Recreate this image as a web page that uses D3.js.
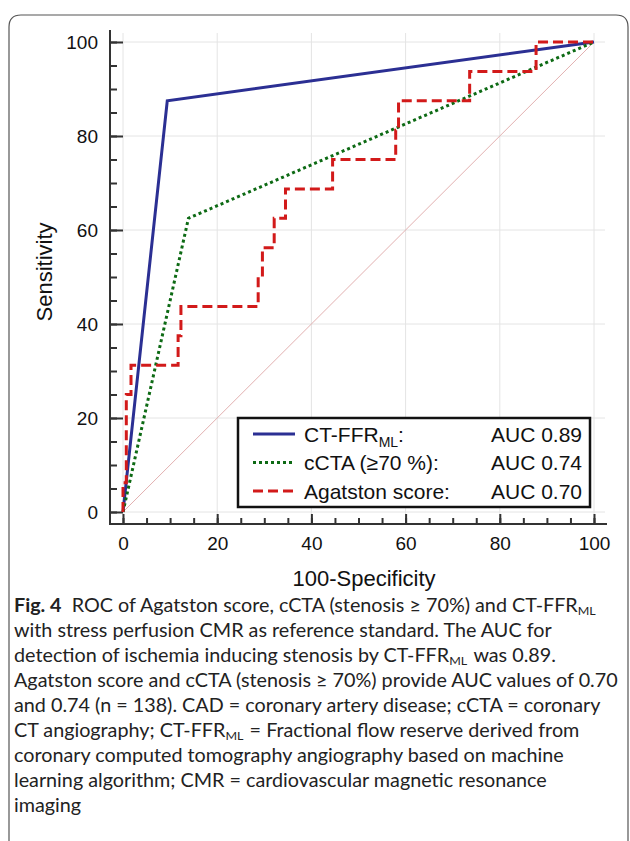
<!DOCTYPE html>
<html>
<head>
<meta charset="utf-8">
<script src="https://cdn.jsdelivr.net/npm/d3@7"></script>
<style>
  body { margin: 0; background: #fff; }
  svg { display: block; }
</style>
</head>
<body>
<div id="chart"></div>
<script>
// ROC curves: x = 100-specificity, y = sensitivity
let ctffrX = [0, 9.4, 100],
  ctffrY = [0, 87.5, 100];

let cctaX = [0, 13.9, 100],
  cctaY = [0, 62.5, 100];

// step points for Agatston score (x where sensitivity jumps, new sensitivity)
let agatstonX = [0, 0, 0.7, 1.7, 11.7, 12.3, 28.7, 29.6, 32.1, 34.5, 44.5, 57.9, 58.5, 73.6, 87.7, 100],
  agatstonY = [0, 6.25, 25, 31.25, 37.5, 43.75, 50, 56.25, 62.5, 68.75, 75, 81.25, 87.5, 93.75, 100, 100];

let majorTicks = [0, 20, 40, 60, 80, 100];
let minorTicks = d3.range(0, 101, 5);

let legendNames = ["CT-FFR", "cCTA (≥70 %):", "Agatston score:"];
let legendAuc = ["AUC 0.89", "AUC 0.74", "AUC 0.70"];

// caption lines, segments: [text, style]
let caption = [
  [["Fig. 4", "b"], ["  ROC of Agatston score, cCTA (stenosis ≥ 70%) and CT-FFR", ""], ["ML", "sub"]],
  [["with stress perfusion CMR as reference standard. The AUC for", ""]],
  [["detection of ischemia inducing stenosis by CT-FFR", ""], ["ML", "sub"], ["was 0.89.", ""]],
  [["Agatston score and cCTA (stenosis ≥ 70%) provide AUC values of 0.70", ""]],
  [["and 0.74 (n = 138). CAD = coronary artery disease; cCTA = coronary", ""]],
  [["CT angiography; CT-FFR", ""], ["ML", "sub"], ["= Fractional flow reserve derived from", ""]],
  [["coronary computed tomography angiography based on machine", ""]],
  [["learning algorithm; CMR = cardiovascular magnetic resonance", ""]],
  [["imaging", ""]]
];

let width = 630,
  height = 841;

let svg = d3.select("#chart")
  .append("svg")
  .attr("width", width)
  .attr("height", height)
  .style("font-family", "'Liberation Sans', Arial, sans-serif");

// card border
svg.append("path")
  .attr("d", "M9,841 L9,27 Q9,15 21,15 L616,15 Q628,15 628,27 L628,841")
  .attr("fill", "none")
  .attr("stroke", "#555")
  .attr("stroke-width", 1.2);

let x = d3.scaleLinear().domain([0, 100]).range([123, 594]);
let y = d3.scaleLinear().domain([0, 100]).range([512, 42]);

let axisX = 110, axisY = 524, topY = 30, rightX = 607;

// grid
let grid = svg.append("g").attr("stroke", "#e4e4e4").attr("stroke-width", 1);
grid.selectAll(".gx")
  .data(majorTicks)
  .join("line")
  .attr("x1", d => x(d)).attr("x2", d => x(d))
  .attr("y1", topY + 3).attr("y2", axisY);
grid.selectAll(".gy")
  .data(majorTicks)
  .join("line")
  .attr("y1", d => y(d)).attr("y2", d => y(d))
  .attr("x1", axisX).attr("x2", rightX - 2);

// chance line
svg.append("line")
  .attr("x1", x(0)).attr("y1", y(0))
  .attr("x2", x(100)).attr("y2", y(100))
  .attr("stroke", "#e2b0b0")
  .attr("stroke-width", 1);

// axes
let yMinor = svg.append("g")
  .attr("transform", `translate(${axisX},0)`)
  .call(d3.axisLeft(y).tickValues(minorTicks).tickSize(-7).tickFormat(""));
let yMajor = svg.append("g")
  .attr("transform", `translate(${axisX},0)`)
  .call(d3.axisLeft(y).tickValues(majorTicks).tickSize(-13).tickPadding(12));

let xMinor = svg.append("g")
  .attr("transform", `translate(0,${axisY})`)
  .call(d3.axisBottom(x).tickValues(minorTicks).tickSize(-6).tickFormat(""));
let xMajor = svg.append("g")
  .attr("transform", `translate(0,${axisY})`)
  .call(d3.axisBottom(x).tickValues(majorTicks).tickSize(-10).tickPadding(13));

[yMinor, yMajor, xMinor, xMajor].forEach(g => {
  g.select(".domain").remove();
  g.selectAll("line").attr("stroke", "#333").attr("stroke-width", 2);
  g.selectAll("text")
    .attr("fill", "#111")
    .style("font-family", "'Liberation Sans', Arial, sans-serif")
    .style("font-size", "19px");
});

svg.append("path")
  .attr("d", `M${axisX},${topY} L${axisX},${axisY} L${rightX},${axisY}`)
  .attr("fill", "none")
  .attr("stroke", "#333")
  .attr("stroke-width", 2);

svg.append("text")
  .attr("transform", `translate(52,272) rotate(-90)`)
  .attr("text-anchor", "middle")
  .style("font-size", "22px")
  .attr("fill", "#111")
  .text("Sensitivity");

svg.append("text")
  .attr("x", 364).attr("y", 586)
  .attr("text-anchor", "middle")
  .style("font-size", "22px")
  .attr("fill", "#111")
  .text("100-Specificity");

// curves
let lineLin = d3.line().x(d => x(d[0])).y(d => y(d[1]));
let lineStep = d3.line().x(d => x(d[0])).y(d => y(d[1])).curve(d3.curveStepAfter);

let series = [
  { pts: d3.zip(ctffrX, ctffrY), gen: lineLin, color: "#2b2f93", dash: null },
  { pts: d3.zip(cctaX, cctaY), gen: lineLin, color: "#0d6a14", dash: "3,3" },
  { pts: d3.zip(agatstonX, agatstonY), gen: lineStep, color: "#d21a1a", dash: "10,5" }
];

svg.selectAll(".roc")
  .data(series)
  .join("path")
  .attr("class", "roc")
  .attr("d", d => d.gen(d.pts))
  .attr("fill", "none")
  .attr("stroke", d => d.color)
  .attr("stroke-width", 3)
  .attr("stroke-dasharray", d => d.dash);

// legend
let lg = svg.append("g");
lg.append("rect")
  .attr("x", 238).attr("y", 418)
  .attr("width", 352).attr("height", 89)
  .attr("fill", "#fff")
  .attr("stroke", "#111")
  .attr("stroke-width", 2.5);

series.forEach((s, i) => {
  let cy = 434 + i * 28.5;
  lg.append("line")
    .attr("x1", 253).attr("x2", 295)
    .attr("y1", cy).attr("y2", cy)
    .attr("stroke", s.color)
    .attr("stroke-width", 3)
    .attr("stroke-dasharray", s.dash);

  let t = lg.append("text")
    .attr("x", 304).attr("y", cy + 7.5)
    .style("font-size", "21px")
    .attr("fill", "#111");
  t.append("tspan").text(legendNames[i]);
  if (i == 0) {
    t.append("tspan").attr("dy", 5).style("font-size", "14px").text("ML");
    t.append("tspan").attr("dy", -5).text(":");
  }

  lg.append("text")
    .attr("x", 582).attr("y", cy + 7.5)
    .attr("text-anchor", "end")
    .style("font-size", "21px")
    .attr("fill", "#111")
    .text(legendAuc[i]);
});

// caption
let cap = svg.append("g")
  .style("font-family", "Lato, 'Open Sans', sans-serif")
  .style("font-size", "19px")
  .attr("fill", "#222");

let capLines = cap.selectAll("text")
  .data(caption)
  .join("text")
  .attr("x", 0)
  .attr("y", (d, i) => 612 + i * 25)
  .style("white-space", "pre");

capLines.each(function (segs) {
  let t = d3.select(this);
  let shifted = false;
  segs.forEach(([txt, st]) => {
    let sp = t.append("tspan").text(txt);
    if (st == "b") sp.style("font-weight", "bold");
    if (st == "sub") {
      sp.attr("dy", 3).style("font-size", "12px");
      shifted = true;
    } else if (shifted) {
      sp.attr("dy", -3).attr("dx", 6);
      shifted = false;
    }
  });
});

// squeeze caption horizontally to the column width of the original
let lens = [];
capLines.each(function () { lens.push(this.getComputedTextLength()); });
let k = 604 / d3.max(lens);
cap.attr("transform", `translate(14,0) scale(${k},1)`);
</script>
</body>
</html>
